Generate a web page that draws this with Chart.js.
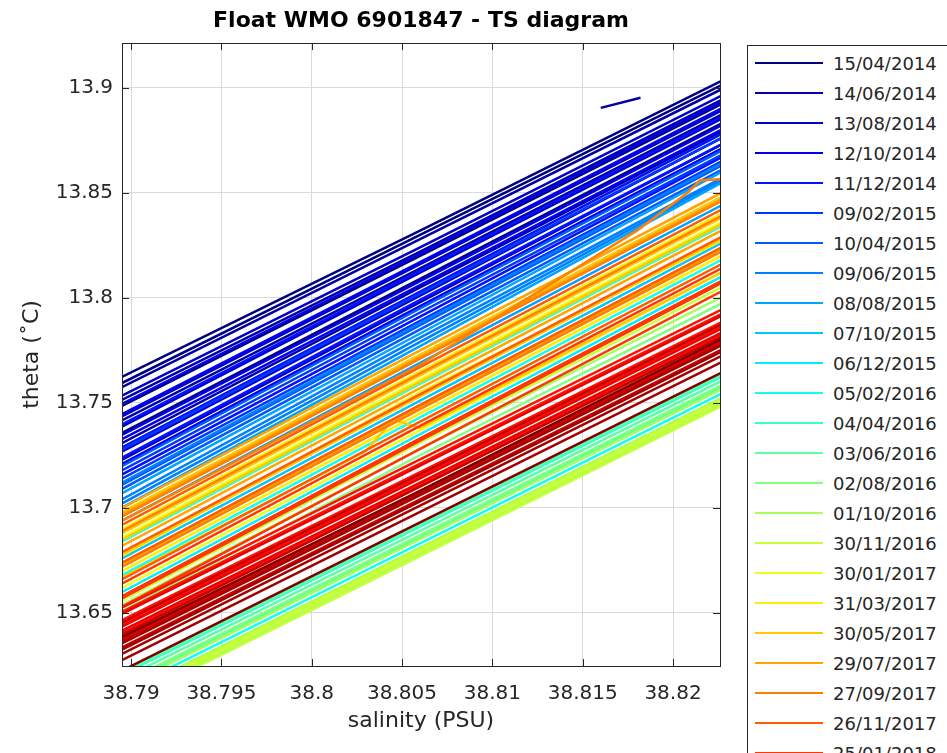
<!DOCTYPE html>
<html>
<head>
<meta charset="utf-8">
<script src="https://cdn.jsdelivr.net/npm/chart.js@4"></script>
<style>
  html, body { margin: 0; padding: 0; background: #fff; overflow: hidden; }
  #wrap { position: relative; width: 947px; height: 753px; }
  #ts { position: absolute; left: 0; top: 0; }
  #legend {
    position: absolute; left: 747px; top: 45px; width: 240px; height: 900px;
    border: 1px solid #262626; background: #fff; box-sizing: border-box;
    padding-top: 2px; font-family: "DejaVu Sans", sans-serif; font-size: 18px; color: #262626;
  }
  .item { height: 30px; display: flex; align-items: center; }
  .swatch { width: 68px; height: 2px; margin-left: 7px; margin-right: 10px; }
</style>
</head>
<body>
<div id="wrap">
  <canvas id="ts" width="947" height="753"></canvas>
  <div id="legend"></div>
</div>
<script>
// axis ranges and ticks
const xMin = 38.7895, xMax = 38.8226;
const yMin = 13.6246, yMax = 13.9214;
const xTicks = [38.79, 38.795, 38.8, 38.805, 38.81, 38.815, 38.82];
const xTickLabels = ["38.79", "38.795", "38.8", "38.805", "38.81", "38.815", "38.82"];
const yTicks = [13.65, 13.7, 13.75, 13.8, 13.85, 13.9];
const yTickLabels = ["13.65", "13.7", "13.75", "13.8", "13.85", "13.9"];

// legend dates (one colour step each, 29 steps in the colormap)
const legendDates = ["15/04/2014", "14/06/2014", "13/08/2014", "12/10/2014", "11/12/2014",
  "09/02/2015", "10/04/2015", "09/06/2015", "08/08/2015", "07/10/2015", "06/12/2015",
  "05/02/2016", "04/04/2016", "03/06/2016", "02/08/2016", "01/10/2016", "30/11/2016",
  "30/01/2017", "31/03/2017", "30/05/2017", "29/07/2017", "27/09/2017", "26/11/2017",
  "25/01/2018"];
const colourSteps = 29;

// profiles: theta at each salinity of the grid
const salinityGrid = [38.788, 38.806, 38.824];
const profileGroup = [
  // blue band (2014-2015)
  0, 0, 0, 0, 1, 1, 1, 1, 2, 2, 2, 2, 2, 3, 3, 3, 3, 3, 4, 4, 4, 4, 5, 5, 5, 6, 6, 6, 7, 7, 7, 8, 8, 8,
  // cyan / green lines inside the orange band
  9, 10, 11, 12, 14, 15, 16,
  // green band (2016)
  13, 13, 13, 14, 15, 15, 15, 16, 16, 16, 12, 11,
  // yellow / orange band (2017)
  17, 17, 18, 18, 18, 19, 19, 19, 19, 20, 20, 20, 20, 21, 21, 21, 22, 22, 22, 22, 23, 23, 23, 23,
  // red band (2018)
  24, 24, 24, 24, 24, 25, 25, 25, 25, 26, 26, 26, 26, 27, 27, 27, 27, 28, 28
];
const profileTheta = [
  [13.756, 13.832, 13.909], [13.753, 13.830, 13.907], [13.742, 13.820, 13.898], [13.729, 13.809, 13.889],
  [13.751, 13.828, 13.905], [13.745, 13.822, 13.900], [13.735, 13.814, 13.893], [13.724, 13.805, 13.885],
  [13.747, 13.824, 13.902], [13.737, 13.816, 13.895], [13.732, 13.812, 13.891], [13.720, 13.801, 13.882], [13.716, 13.798, 13.879],
  [13.743, 13.821, 13.899], [13.738, 13.817, 13.896], [13.728, 13.808, 13.888], [13.726, 13.806, 13.886], [13.714, 13.796, 13.877],
  [13.733, 13.813, 13.892], [13.722, 13.803, 13.884], [13.717, 13.799, 13.879], [13.709, 13.791, 13.873],
  [13.721, 13.802, 13.882], [13.711, 13.793, 13.874], [13.707, 13.789, 13.871],
  [13.713, 13.795, 13.876], [13.704, 13.787, 13.869], [13.702, 13.785, 13.867],
  [13.705, 13.788, 13.870], [13.697, 13.781, 13.863], [13.695, 13.779, 13.862],
  [13.700, 13.783, 13.866], [13.693, 13.777, 13.861], [13.687, 13.769, 13.850],
  [13.669, 13.751, 13.832], [13.653, 13.735, 13.816], [13.661, 13.743, 13.824],
  [13.677, 13.759, 13.840], [13.644, 13.725, 13.803], [13.647, 13.728, 13.806],
  [13.649, 13.731, 13.811],
  [13.612, 13.689, 13.766], [13.609, 13.686, 13.763], [13.615, 13.692, 13.769],
  [13.610, 13.687, 13.764], [13.608, 13.685, 13.762], [13.604, 13.681, 13.758], [13.601, 13.678, 13.755],
  [13.602, 13.679, 13.756], [13.600, 13.677, 13.754], [13.603, 13.680, 13.757],
  [13.614, 13.691, 13.768], [13.606, 13.683, 13.760],
  [13.679, 13.761, 13.842], [13.655, 13.737, 13.818],
  [13.683, 13.765, 13.846], [13.663, 13.745, 13.826], [13.670, 13.755, 13.833],
  [13.691, 13.773, 13.854], [13.681, 13.763, 13.844], [13.671, 13.753, 13.834], [13.678, 13.760, 13.841],
  [13.693, 13.775, 13.856], [13.675, 13.757, 13.838], [13.690, 13.772, 13.853], [13.666, 13.748, 13.829],
  [13.689, 13.771, 13.852], [13.665, 13.747, 13.828], [13.682, 13.764, 13.845],
  [13.685, 13.767, 13.848], [13.667, 13.749, 13.830], [13.659, 13.741, 13.822], [13.672, 13.754, 13.835],
  [13.657, 13.739, 13.820], [13.651, 13.733, 13.814], [13.650, 13.732, 13.813], [13.646, 13.728, 13.809],
  [13.646, 13.723, 13.800], [13.640, 13.717, 13.794], [13.634, 13.711, 13.788], [13.644, 13.721, 13.798], [13.638, 13.715, 13.792],
  [13.643, 13.720, 13.797], [13.637, 13.714, 13.791], [13.631, 13.708, 13.785], [13.635, 13.712, 13.789],
  [13.639, 13.716, 13.793], [13.633, 13.710, 13.787], [13.627, 13.704, 13.781], [13.630, 13.707, 13.784],
  [13.629, 13.706, 13.783], [13.624, 13.701, 13.778], [13.621, 13.698, 13.775], [13.626, 13.703, 13.780],
  [13.632, 13.708, 13.786], [13.616, 13.693, 13.770]
];

// profiles with their own salinity samples
const partialGroup = [21, 1, 19];
const partialSalinity = [
  [38.788, 38.806, 38.818, 38.8208, 38.8215, 38.824],
  [38.816, 38.8182],
  [38.788, 38.803, 38.8045, 38.806, 38.824]
];
const partialTheta = [
  [13.687, 13.768, 13.832, 13.850, 13.856, 13.857],
  [13.8905, 13.8953],
  [13.660, 13.727, 13.742, 13.738, 13.818]
];

function jet(t) {
  const c = (v) => Math.round(255 * Math.max(0, Math.min(1, v)));
  return `rgb(${c(1.5 - Math.abs(4 * t - 3))},${c(1.5 - Math.abs(4 * t - 2))},${c(1.5 - Math.abs(4 * t - 1))})`;
}
const groupColour = (g) => jet(g / (colourSteps - 1));

const profiles = profileTheta.map((th, i) => ({
  group: profileGroup[i],
  points: th.map((t, k) => ({ x: salinityGrid[k], y: t }))
})).concat(partialTheta.map((th, i) => ({
  group: partialGroup[i],
  points: th.map((t, k) => ({ x: partialSalinity[i][k], y: t }))
})));
profiles.sort((a, b) => a.group - b.group);

const datasets = profiles.map((p, i) => ({
  data: p.points,
  borderColor: groupColour(p.group),
  borderWidth: 2.5,
  pointRadius: 0,
  fill: false,
  tension: 0,
  clip: 0,
  order: -i
}));

const font = "DejaVu Sans";
const ink = "#262626";

const frameTicks = {
  id: "frameTicks",
  afterDatasetsDraw(chart) {
    const { ctx, chartArea: a, scales } = chart;
    ctx.save();
    ctx.strokeStyle = ink;
    ctx.lineWidth = 1;
    ctx.beginPath();
    const len = 7;
    xTicks.forEach((v) => {
      const px = Math.round(scales.x.getPixelForValue(v)) + 0.5;
      ctx.moveTo(px, a.bottom); ctx.lineTo(px, a.bottom - len);
      ctx.moveTo(px, a.top); ctx.lineTo(px, a.top + len);
    });
    yTicks.forEach((v) => {
      const py = Math.round(scales.y.getPixelForValue(v)) + 0.5;
      ctx.moveTo(a.left, py); ctx.lineTo(a.left + len, py);
      ctx.moveTo(a.right, py); ctx.lineTo(a.right - len, py);
    });
    ctx.stroke();
    ctx.strokeRect(Math.round(a.left) + 0.5, Math.round(a.top) + 0.5,
      Math.round(a.right - a.left), Math.round(a.bottom - a.top));
    ctx.restore();
  }
};

new Chart(document.getElementById("ts"), {
  type: "line",
  data: { datasets },
  plugins: [frameTicks],
  options: {
    responsive: false,
    animation: false,
    devicePixelRatio: 1,
    layout: { padding: { left: 0, right: 227, top: 0, bottom: 0 } },
    plugins: {
      legend: { display: false },
      tooltip: { enabled: false },
      title: {
        display: true,
        fullSize: false,
        text: "Float WMO 6901847 - TS diagram",
        color: "#000",
        font: { family: font, size: 22, weight: "bold" },
        padding: { top: 8, bottom: 8.6 }
      }
    },
    scales: {
      x: {
        type: "linear",
        min: xMin,
        max: xMax,
        afterBuildTicks: (s) => { s.ticks = xTicks.map((v) => ({ value: v })); },
        afterFit: (s) => { s.height = 87; },
        grid: { color: "#dadada", drawTicks: false },
        border: { display: false },
        ticks: {
          padding: 16, color: ink, maxRotation: 0, autoSkip: false,
          font: { family: font, size: 20 },
          callback: (v) => xTickLabels[xTicks.indexOf(v)]
        },
        title: {
          display: true, text: "salinity (PSU)", color: ink,
          font: { family: font, size: 22 }, padding: { top: 0, bottom: 19 }
        }
      },
      y: {
        type: "linear",
        min: yMin,
        max: yMax,
        afterBuildTicks: (s) => { s.ticks = yTicks.map((v) => ({ value: v })); },
        afterFit: (s) => { s.width = 122; },
        grid: { color: "#dadada", drawTicks: false },
        border: { display: false },
        ticks: {
          padding: 9, color: ink, autoSkip: false,
          font: { family: font, size: 20 },
          callback: (v) => yTickLabels[yTicks.indexOf(v)]
        },
        title: {
          display: true, text: "theta (˚C)", color: ink,
          font: { family: font, size: 22 }, padding: { top: 19, bottom: 0 }
        }
      }
    }
  }
});

// legend box
const legend = document.getElementById("legend");
legend.innerHTML = legendDates.map((d, k) => `
  <div class="item"><span class="swatch" style="background:${groupColour(k)}"></span><span>${d}</span></div>
`).join("");
</script>
</body>
</html>
